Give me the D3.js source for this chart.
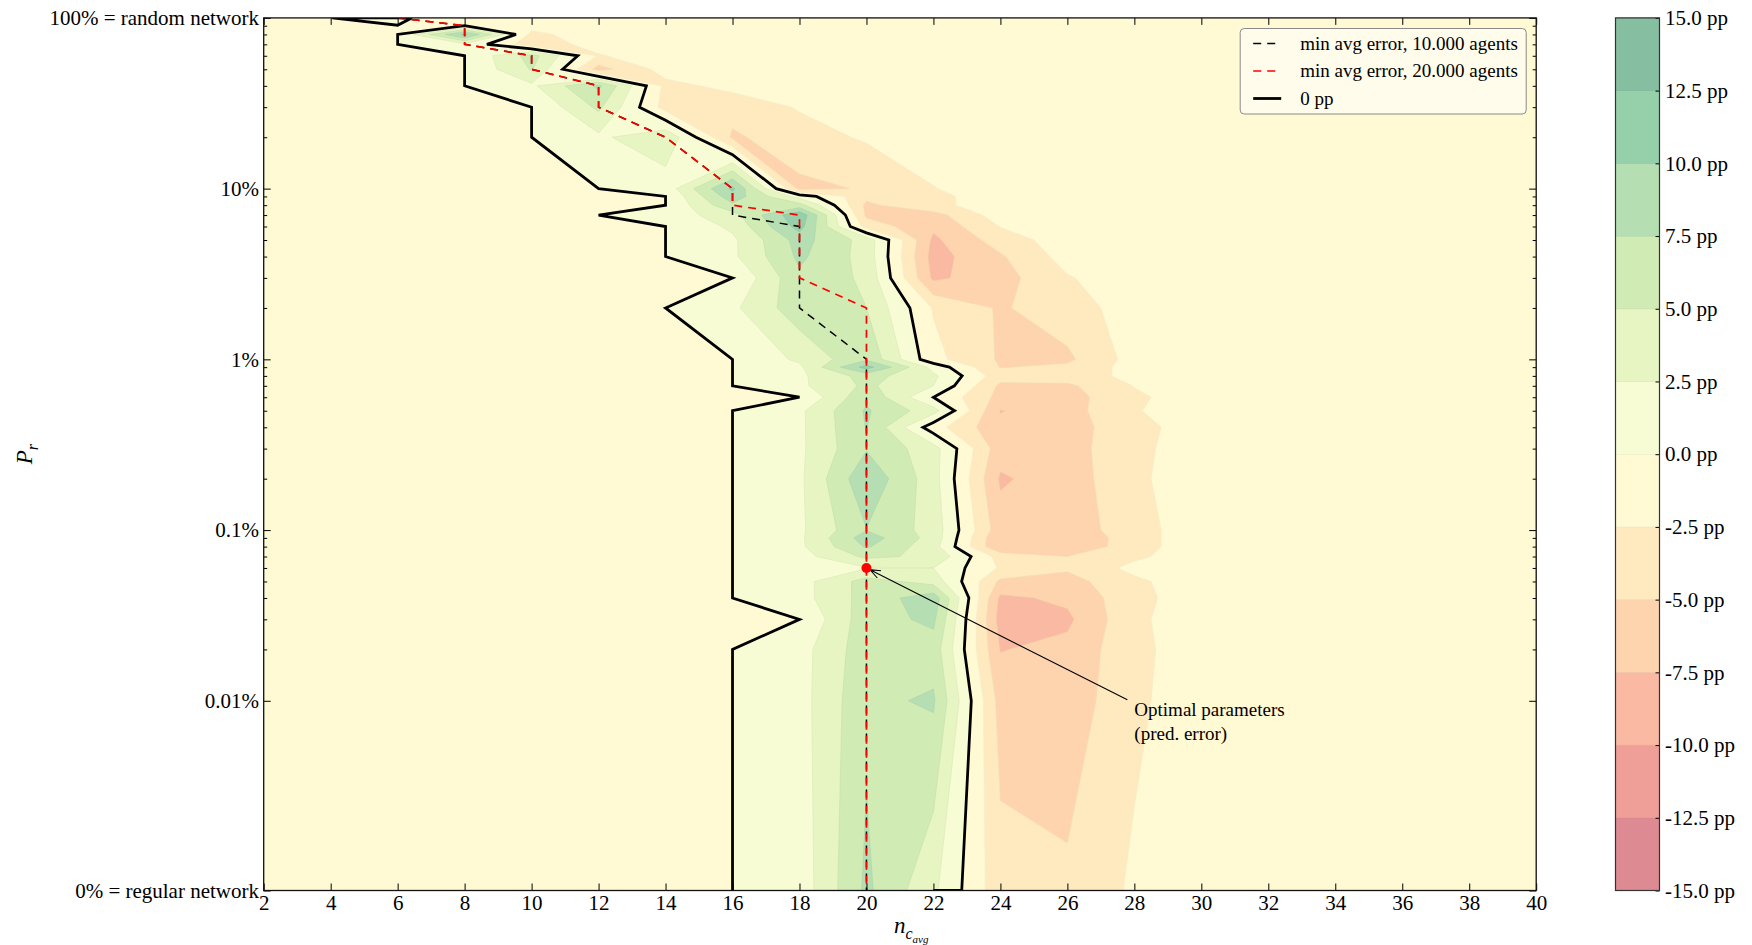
<!DOCTYPE html>
<html>
<head>
<meta charset="utf-8">
<script src="https://cdn.jsdelivr.net/npm/d3@7"></script>
<style>
  body { margin: 0; background: #ffffff; }
  svg { display: block; }
  text { font-family: "Liberation Serif", "Times New Roman", serif; fill: #000; }
</style>
</head>
<body>
<svg id="chart" width="1752" height="945"></svg>
<script>
// ---- grid axes -------------------------------------------------------------
// average number of contacts (columns of the simulation grid)
const ncAvg = [2, 4, 6, 8, 10, 12, 14, 16, 18, 20, 22, 24, 26, 28, 30, 32, 34, 36, 38, 40];

// rewiring probability P_r in percent (rows of the simulation grid, top to bottom)
const prRows = [100, 90, 80, 70, 60, 50, 40, 30, 20, 10, 9, 8, 7, 6, 5, 4, 3, 2, 1,
                0.9, 0.8, 0.7, 0.6, 0.5, 0.4, 0.3, 0.2, 0.1,
                0.09, 0.08, 0.07, 0.06, 0.05, 0.04, 0.03, 0.02, 0.01, 0];

// difference in prediction error (pp), one row per P_r value, one column per n_c_avg
const errorDiffPP = [
  [-1, -0.02, 0.8, -3, -1.5, -1, -1, -1, -1, -1, -1, -1, -1, -1, -1, -1, -1, -1, -1, -1],
  [-1, -1, -0.05, 0, -1.5, -1, -1, -1, -1, -1, -1, -1, -1, -1, -1, -1, -1, -1, -1, -1],
  [-1, -1, 0, 10.5, -3.2, -1, -1, -1, -1, -1, -1, -1, -1, -1, -1, -1, -1, -1, -1, -1],
  [-1, -1, 0, 2, -4, -1.5, -1, -1, -1, -1, -1, -1, -1, -1, -1, -1, -1, -1, -1, -1],
  [-1, -1, -1, 0, 6, -2.7, -1, -1, -1, -1, -1, -1, -1, -1, -1, -1, -1, -1, -1, -1],
  [-1, -1, -1, 0, 5.2, -6, -1.5, -1, -1, -1, -1, -1, -1, -1, -1, -1, -1, -1, -1, -1],
  [-1, -1, -1, 0, 2, 8, -3.2, -1.8, -1, -1, -1, -1, -1, -1, -1, -1, -1, -1, -1, -1],
  [-1, -1, -1, -1, 0, 5.5, -3.5, -4, -2.3, -1, -1, -1, -1, -1, -1, -1, -1, -1, -1, -1],
  [-1, -1, -1, -1, 0, 2, 4.5, -5.4, -3.5, -2.2, -1, -1, -1, -1, -1, -1, -1, -1, -1, -1],
  [-1, -1, -1, -1, -1, 0, 1, 10.5, -5.6, -4.8, -2.6, -1, -1, -1, -1, -1, -1, -1, -1, -1],
  [-1, -1, -1, -1, -1, -1, 0, 9, 1.5, -4.4, -3, -1.5, -1, -1, -1, -1, -1, -1, -1, -1],
  [-1, -1, -1, -1, -1, -1, 0, 7, 6, -5.5, -3, -1.5, -1, -1, -1, -1, -1, -1, -1, -1],
  [-1, -1, -1, -1, -1, 0, 1, 4, 12, -5.5, -6, -1.2, -1, -1, -1, -1, -1, -1, -1, -1],
  [-1, -1, -1, -1, -1, -1, 0, 3, 11, -3.5, -7, -2.4, -1, -1, -1, -1, -1, -1, -1, -1],
  [-1, -1, -1, -1, -1, -1, 0, 2, 8.5, 4, -8, -3.8, -1.2, -1, -1, -1, -1, -1, -1, -1],
  [-1, -1, -1, -1, -1, -1, 0, 2, 8, 4, -8.5, -5.3, -1.5, -1, -1, -1, -1, -1, -1, -1],
  [-1, -1, -1, -1, -1, -1, -1, 0, 7, 4.5, -8, -6, -2.7, -1, -1, -1, -1, -1, -1, -1],
  [-1, -1, -1, -1, -1, -1, 0, 2, 6.5, 5, -2.7, -5.3, -3.5, -1.5, -1, -1, -1, -1, -1, -1],
  [-1, -1, -1, -1, -1, -1, -1, 0, 3, 7, -1.75, -5.3, -5.5, -1.5, -1, -1, -1, -1, -1, -1],
  [-1, -1, -1, -1, -1, -1, -1, 0, 2, 11, 1.6, -5.1, -4.5, -1.5, -1, -1, -1, -1, -1, -1],
  [-1, -1, -1, -1, -1, -1, -1, 0, 2, 6, 3, -4, -3.5, -2, -1, -1, -1, -1, -1, -1],
  [-1, -1, -1, -1, -1, -1, -1, 0, 2, 5.5, 2.5, -5.5, -5.5, -2.4, -1, -1, -1, -1, -1, -1],
  [-1, -1, -1, -1, -1, -1, -1, -1, 0, 7, 0, -5.8, -6, -3, -1, -1, -1, -1, -1, -1],
  [-1, -1, -1, -1, -1, -1, -1, 0, 2, 7.8, 3.5, -7.6, -6, -2.7, -1, -1, -1, -1, -1, -1],
  [-1, -1, -1, -1, -1, -1, -1, 0, 2, 7.6, -1.4, -7, -6, -3.5, -1, -1, -1, -1, -1, -1],
  [-1, -1, -1, -1, -1, -1, -1, 0, 2, 7.3, 3.5, -6.5, -6, -3.2, -1, -1, -1, -1, -1, -1],
  [-1, -1, -1, -1, -1, -1, -1, 0, 2, 9.5, 3.5, -7.8, -6.3, -3, -1, -1, -1, -1, -1, -1],
  [-1, -1, -1, -1, -1, -1, -1, 0, 2, 7.4, 4, -6.5, -6.5, -3.5, -1, -1, -1, -1, -1, -1],
  [-1, -1, -1, -1, -1, -1, -1, 0, 2, 8.8, 4, -7.4, -7.4, -3.5, -1, -1, -1, -1, -1, -1],
  [-1, -1, -1, -1, -1, -1, -1, 0, 2, 7.8, 3.5, -7.4, -7.2, -3.5, -1, -1, -1, -1, -1, -1],
  [-1, -1, -1, -1, -1, -1, -1, 0, 1.5, 5.5, 4.5, -3.5, -5, -3, -1, -1, -1, -1, -1, -1],
  [-1, -1, -1, -1, -1, -1, -1, 0, 0.8, 2.3, 2.5, -2.8, -4.6, -1.8, -1, -1, -1, -1, -1, -1],
  [-1, -1, -1, -1, -1, -1, -1, 0, 1.5, 6, 4, -5.5, -6, -3, -1, -1, -1, -1, -1, -1],
  [-1, -1, -1, -1, -1, -1, -1, 0, 1.5, 6, 9, -8, -7, -3.3, -1, -1, -1, -1, -1, -1],
  [-1, -1, -1, -1, -1, -1, -1, -1, 0, 6.5, 8, -8.5, -8, -3, -1, -1, -1, -1, -1, -1],
  [-1, -1, -1, -1, -1, -1, -1, 0, 1.5, 6.5, 6.5, -7.6, -6.8, -3.2, -1, -1, -1, -1, -1, -1],
  [-1, -1, -1, -1, -1, -1, -1, 0, 1.5, 7, 7.8, -6, -6.5, -3, -1, -1, -1, -1, -1, -1],
  [-1, -1, -1, -1, -1, -1, -1, 0, 1, 8, 3, -4.1, -4.5, -2.1, -1, -1, -1, -1, -1, -1]
];

// n_c_avg with the minimum average error for each P_r row
const minErr10kNc = [6, 8, 8, 8, 10, 10, 12, 12, 14, 16, 16, 16, 16, 18, 18, 18, 18, 18, 20,
                     20, 20, 20, 20, 20, 20, 20, 20, 20, 20, 20, 20, 20, 20, 20, 20, 20, 20, 20];
const minErr20kNc = [6, 8, 8, 8, 10, 10, 12, 12, 14, 16, 16, 16, 18, 18, 18, 18, 18, 20, 20,
                     20, 20, 20, 20, 20, 20, 20, 20, 20, 20, 20, 20, 20, 20, 20, 20, 20, 20, 20];

// chosen parameters and the note that points at them
const optimum = { nc: 20, pr: 0.06 };
const optimumNote = { lines: ["Optimal parameters", "(pred. error)"], nc: 28, pr: 0.01 };

// contour levels (pp)
const levelsPP = [-15, -12.5, -10, -7.5, -5, -2.5, 0, 2.5, 5, 7.5, 10, 12.5, 15];

// axis ticks
const xTickValues = [2, 4, 6, 8, 10, 12, 14, 16, 18, 20, 22, 24, 26, 28, 30, 32, 34, 36, 38, 40];
const yMajorTicks = [100, 10, 1, 0.1, 0.01, 0];
const yMajorLabels = ["100% = random network", "10%", "1%", "0.1%", "0.01%", "0% = regular network"];
const yMinorTicks = [90, 80, 70, 60, 50, 40, 30, 20, 9, 8, 7, 6, 5, 4, 3, 2,
                     0.9, 0.8, 0.7, 0.6, 0.5, 0.4, 0.3, 0.2, 0.09, 0.08, 0.07, 0.06, 0.05, 0.04, 0.03, 0.02];

// diverging red-yellow-green palette
const rdYlGn = ["#a50026", "#d73027", "#f46d43", "#fdae61", "#fee08b", "#ffffbf",
                "#d9ef8b", "#a6d96a", "#66bd63", "#1a9850", "#006837"];

// ---- layout ----------------------------------------------------------------
const plot = { left: 263.7, right: 1536.2, top: 17.9, bottom: 890.5 };
const cbar = { left: 1615.5, right: 1659.5 };

const svg = d3.select("#chart");

// x: linear in n_c_avg
const x = d3.scaleLinear().domain(d3.extent(xTickValues)).range([plot.left, plot.right]);

// y: symmetric log (linear below 0.01 %, logarithmic above)
const LIN_THRESH = 0.01;
const LIN_SCALE = 1 / (1 - 1 / 10);
const symlog = p => p <= LIN_THRESH ? (p / LIN_THRESH) * LIN_SCALE
                                    : LIN_SCALE + Math.log10(p / LIN_THRESH);
const yT = d3.scaleLinear()
  .domain([symlog(d3.min(yMajorTicks)), symlog(d3.max(yMajorTicks))])
  .range([plot.bottom, plot.top]);
const y = p => yT(symlog(p));

// band colours: palette at band centre, half transparent over white
const cmap = d3.scaleLinear()
  .domain(rdYlGn.map((_, i) => i / (rdYlGn.length - 1)))
  .range(rdYlGn)
  .interpolate(d3.interpolateRgb);
const lo = levelsPP[0], hi = levelsPP[levelsPP.length - 1];
const bandColors = levelsPP.slice(0, -1).map((l, i) => {
  const mid = (l + levelsPP[i + 1]) / 2;
  return d3.interpolateRgb(cmap((mid - lo) / (hi - lo)), "#ffffff")(0.5);
});

// ---- contour geometry ------------------------------------------------------
const nx = ncAvg.length, ny = prRows.length;
const gridValues = errorDiffPP.flat();
const colPx = ncAvg.map(x);
const rowPx = prRows.map(y);

function interpAlong(arr, u) {
  const n = arr.length;
  u = Math.max(0, Math.min(n - 1, u));
  const i = Math.min(n - 2, Math.floor(u));
  return arr[i] + (u - i) * (arr[i + 1] - arr[i]);
}
// d3.contours places sample k at k + 0.5
const toPx = ([cx, cy]) => [interpAlong(colPx, cx - 0.5), interpAlong(rowPx, cy - 0.5)];

function multiPolygonPath(geom) {
  let d = "";
  geom.coordinates.forEach(poly => poly.forEach(ring => {
    ring.forEach((pt, i) => {
      const [px, py] = toPx(pt);
      d += (i === 0 ? "M" : "L") + px.toFixed(2) + "," + py.toFixed(2);
    });
    d += "Z";
  }));
  return d;
}

// iso-line without the pieces that run along the grid border
function isoLinePath(geom) {
  const sameBorder = (a, b) =>
    (a[0] === 0 && b[0] === 0) || (a[0] === nx && b[0] === nx) ||
    (a[1] === 0 && b[1] === 0) || (a[1] === ny && b[1] === ny);
  let d = "";
  geom.coordinates.forEach(poly => poly.forEach(ring => {
    let penDown = false;
    for (let i = 0; i + 1 < ring.length; i++) {
      const a = ring[i], b = ring[i + 1];
      if (sameBorder(a, b)) { penDown = false; continue; }
      const pa = toPx(a), pb = toPx(b);
      if (!penDown) { d += "M" + pa[0].toFixed(2) + "," + pa[1].toFixed(2); penDown = true; }
      d += "L" + pb[0].toFixed(2) + "," + pb[1].toFixed(2);
    }
  }));
  return d;
}

// ---- drawing ---------------------------------------------------------------
svg.append("defs").append("clipPath").attr("id", "plot-clip")
  .append("rect")
  .attr("x", plot.left).attr("y", plot.top)
  .attr("width", plot.right - plot.left).attr("height", plot.bottom - plot.top);

const field = svg.append("g").attr("clip-path", "url(#plot-clip)");

const bands = d3.contours().size([nx, ny]).thresholds(levelsPP.slice(0, -1))(gridValues);
field.selectAll("path.band")
  .data(bands)
  .join("path")
  .attr("class", "band")
  .attr("d", multiPolygonPath)
  .attr("fill", (d, i) => bandColors[i])
  .attr("fill-rule", "evenodd")
  .attr("stroke", (d, i) => d3.color(bandColors[i]).darker(0.15))
  .attr("stroke-width", 0.6);

// 0 pp iso-line
const zeroContour = d3.contours().size([nx, ny]).thresholds([0])(gridValues)[0];
field.append("path")
  .attr("d", isoLinePath(zeroContour))
  .attr("fill", "none")
  .attr("stroke", "#000")
  .attr("stroke-width", 2.8)
  .attr("stroke-linejoin", "miter")
  .attr("stroke-miterlimit", 3);

// minimum-error paths
const pathLine = d3.line().x(d => x(d[0])).y(d => y(d[1]));
field.append("path")
  .datum(minErr10kNc.map((nc, i) => [nc, prRows[i]]))
  .attr("d", pathLine)
  .attr("fill", "none")
  .attr("stroke", "#000")
  .attr("stroke-width", 1.5)
  .attr("stroke-dasharray", "8,6");
field.append("path")
  .datum(minErr20kNc.map((nc, i) => [nc, prRows[i]]))
  .attr("d", pathLine)
  .attr("fill", "none")
  .attr("stroke", "#ff0000")
  .attr("stroke-width", 1.7)
  .attr("stroke-dasharray", "8,6");

// optimum marker and note
const ox = x(optimum.nc), oy = y(optimum.pr);
const sx = x(optimumNote.nc) - 7, sy = y(optimumNote.pr) - 1;
const len = Math.hypot(sx - ox, sy - oy);
const ux = (sx - ox) / len, uy = (sy - oy) / len;
const ex = ox + ux * 4, ey = oy + uy * 4;
const headLen = 11, headAng = 0.38;
const rot = (vx, vy, a) => [vx * Math.cos(a) - vy * Math.sin(a), vx * Math.sin(a) + vy * Math.cos(a)];
const h1 = rot(ux, uy, headAng), h2 = rot(ux, uy, -headAng);
const note = svg.append("g");
note.append("path")
  .attr("d", `M${sx},${sy}L${ex},${ey}M${ex + h1[0] * headLen},${ey + h1[1] * headLen}L${ex},${ey}L${ex + h2[0] * headLen},${ey + h2[1] * headLen}`)
  .attr("fill", "none").attr("stroke", "#000").attr("stroke-width", 1.1);
svg.append("circle")
  .attr("cx", ox).attr("cy", oy).attr("r", 5)
  .attr("fill", "#ff0000");
note.selectAll("text")
  .data(optimumNote.lines)
  .join("text")
  .attr("x", x(optimumNote.nc))
  .attr("y", (d, i) => y(optimumNote.pr) + 15 + i * 24.5)
  .attr("font-size", 19)
  .text(d => d);

// ---- axes ------------------------------------------------------------------
function styleAxis(g, size) {
  g.select(".domain").remove();
  g.selectAll(".tick line").attr("stroke", "#000").attr("stroke-width", 1);
  g.selectAll(".tick text").attr("font-size", size).attr("font-family", null).attr("fill", "#000");
}

svg.append("g")
  .attr("transform", `translate(0,${plot.bottom})`)
  .call(d3.axisBottom(x).tickValues(xTickValues).tickFormat(d3.format("d"))
        .tickSizeInner(-7).tickSizeOuter(0).tickPadding(4.6))
  .call(g => styleAxis(g, 21));
svg.append("g")
  .attr("transform", `translate(0,${plot.top})`)
  .call(d3.axisTop(x).tickValues(xTickValues).tickFormat("")
        .tickSizeInner(-7).tickSizeOuter(0))
  .call(g => styleAxis(g, 21));

svg.append("g")
  .attr("transform", `translate(${plot.left},0)`)
  .call(d3.axisLeft(yT).tickValues(yMajorTicks.map(symlog))
        .tickFormat((d, i) => yMajorLabels[i])
        .tickSizeInner(-7).tickSizeOuter(0).tickPadding(4.7))
  .call(g => styleAxis(g, 21));
svg.append("g")
  .attr("transform", `translate(${plot.left},0)`)
  .call(d3.axisLeft(yT).tickValues(yMinorTicks.map(symlog)).tickFormat("")
        .tickSizeInner(-3.5).tickSizeOuter(0))
  .call(g => styleAxis(g, 21));
svg.append("g")
  .attr("transform", `translate(${plot.right},0)`)
  .call(d3.axisRight(yT).tickValues(yMajorTicks.map(symlog)).tickFormat("")
        .tickSizeInner(-7).tickSizeOuter(0))
  .call(g => styleAxis(g, 21));
svg.append("g")
  .attr("transform", `translate(${plot.right},0)`)
  .call(d3.axisRight(yT).tickValues(yMinorTicks.map(symlog)).tickFormat("")
        .tickSizeInner(-3.5).tickSizeOuter(0))
  .call(g => styleAxis(g, 21));

// frame
svg.append("rect")
  .attr("x", plot.left).attr("y", plot.top)
  .attr("width", plot.right - plot.left).attr("height", plot.bottom - plot.top)
  .attr("fill", "none").attr("stroke", "#111").attr("stroke-width", 1.3);

// axis titles
const xTitle = svg.append("text")
  .attr("x", 894).attr("y", 933)
  .attr("font-size", 23).attr("font-style", "italic");
xTitle.append("tspan").text("n");
xTitle.append("tspan").attr("font-size", 16).attr("dy", 6).text("c");
xTitle.append("tspan").attr("font-size", 11).attr("dy", 4).text("avg");

const yTitle = svg.append("text")
  .attr("transform", `translate(32,${(plot.top + plot.bottom) / 2}) rotate(-90)`)
  .attr("text-anchor", "middle")
  .attr("font-size", 23).attr("font-style", "italic");
yTitle.append("tspan").text("P");
yTitle.append("tspan").attr("font-size", 16).attr("dy", 6).text("r");

// ---- legend ----------------------------------------------------------------
const legendItems = [
  { label: "min avg error, 10.000 agents", stroke: "#000", width: 1.5, dash: "8,6" },
  { label: "min avg error, 20.000 agents", stroke: "#ff0000", width: 1.7, dash: "8,6" },
  { label: "0 pp", stroke: "#000", width: 2.8, dash: null }
];
const legend = svg.append("g").attr("transform", `translate(${plot.right - 296},${plot.top + 10.6})`);
legend.append("rect")
  .attr("width", 286).attr("height", 85.5).attr("rx", 4)
  .attr("fill", "#ffffff").attr("fill-opacity", 0.55)
  .attr("stroke", "#8a8a8a").attr("stroke-width", 1);
const li = legend.selectAll("g.item").data(legendItems).join("g")
  .attr("class", "item")
  .attr("transform", (d, i) => `translate(0,${15 + i * 27.5})`);
li.append("line")
  .attr("x1", 13).attr("x2", 41)
  .attr("stroke", d => d.stroke).attr("stroke-width", d => d.width)
  .attr("stroke-dasharray", d => d.dash);
li.append("text")
  .attr("x", 60).attr("dy", "0.32em")
  .attr("font-size", 19)
  .text(d => d.label);

// ---- colour bar ------------------------------------------------------------
const cb = d3.scaleLinear().domain([lo, hi]).range([plot.bottom, plot.top]);
svg.append("g").selectAll("rect")
  .data(levelsPP.slice(0, -1))
  .join("rect")
  .attr("x", cbar.left)
  .attr("y", (d, i) => cb(levelsPP[i + 1]))
  .attr("width", cbar.right - cbar.left)
  .attr("height", (d, i) => cb(d) - cb(levelsPP[i + 1]))
  .attr("fill", (d, i) => bandColors[i])
  .attr("stroke", (d, i) => d3.color(bandColors[i]).darker(0.15))
  .attr("stroke-width", 0.6);
svg.append("g")
  .attr("transform", `translate(${cbar.right},0)`)
  .call(d3.axisRight(cb).tickValues(levelsPP)
        .tickFormat(d => d.toFixed(1) + " pp")
        .tickSizeInner(-4).tickSizeOuter(0).tickPadding(5.5))
  .call(g => styleAxis(g, 21));
svg.append("rect")
  .attr("x", cbar.left).attr("y", plot.top)
  .attr("width", cbar.right - cbar.left).attr("height", plot.bottom - plot.top)
  .attr("fill", "none").attr("stroke", "#333").attr("stroke-width", 1.2);
</script>
</body>
</html>
